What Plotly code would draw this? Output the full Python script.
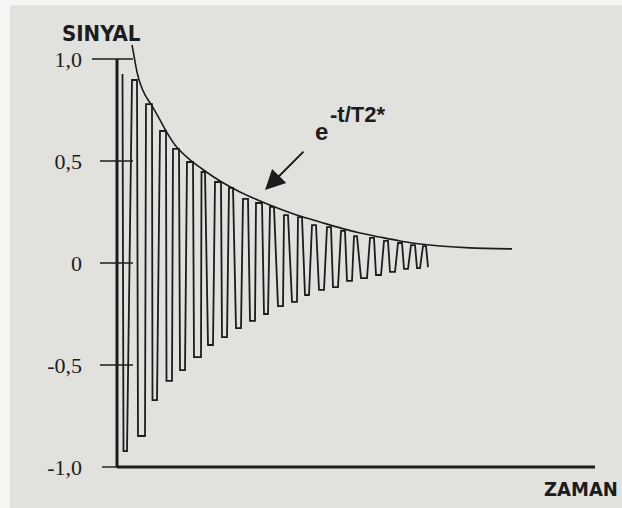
import plotly.graph_objects as go

# ---- data (time in arbitrary units, signal in relative units) ----
start_t, start_v = 1.1, 0.926
end_t, end_v = 62.2, -0.020

trough_t0 = [1.3, 4.2, 7.1, 9.9, 12.6, 15.4, 18.2, 21.0, 23.8, 26.6, 29.4, 32.2, 35.0, 37.6, 40.4, 43.2, 46.0, 48.8, 51.8, 54.6, 57.4, 60.0]
trough_t1 = [2.0, 5.6, 8.0, 11.0, 13.6, 16.8, 19.2, 22.0, 24.8, 27.6, 30.2, 33.2, 36.0, 38.4, 41.4, 44.2, 47.0, 50.0, 52.8, 55.6, 58.2, 60.6]
trough_v = [-0.922, -0.848, -0.672, -0.578, -0.525, -0.461, -0.402, -0.363, -0.319, -0.284, -0.250, -0.211, -0.191, -0.157, -0.132, -0.118, -0.088, -0.074, -0.059, -0.044, -0.029, -0.025]

peak_t0 = [3.0, 5.8, 8.6, 11.2, 14.0, 16.9, 19.6, 22.4, 25.2, 27.8, 30.6, 33.4, 36.2, 39.0, 42.0, 44.8, 47.4, 50.6, 53.4, 56.2, 58.8, 61.2]
peak_t1 = [4.0, 7.0, 9.8, 12.4, 15.2, 17.6, 20.8, 23.2, 26.2, 29.0, 31.4, 34.2, 37.0, 39.8, 42.8, 45.6, 48.0, 51.4, 54.2, 57.0, 59.6, 61.8]
peak_v = [0.897, 0.779, 0.647, 0.559, 0.495, 0.446, 0.397, 0.368, 0.314, 0.294, 0.275, 0.235, 0.225, 0.186, 0.176, 0.157, 0.132, 0.123, 0.108, 0.098, 0.088, 0.083]

env_t = [3.0, 3.4, 4.0, 4.6, 5.6, 7.0, 8.6, 9.8, 11.6, 14.6, 17.6, 20.6, 24.6, 28.6, 32.6, 36.6, 40.6, 44.6, 48.6, 52.6, 56.6, 60.6, 64.6, 70.6, 79.0]
env_v = [1.069, 1.015, 0.936, 0.882, 0.824, 0.770, 0.701, 0.647, 0.578, 0.505, 0.451, 0.402, 0.348, 0.304, 0.265, 0.230, 0.201, 0.172, 0.147, 0.127, 0.108, 0.093, 0.083, 0.074, 0.069]

tick_vals = [1.0, 0.5, 0.0, -0.5, -1.0]
tick_text = ["1,0", "0,5", "0", "-0,5", "-1,0"]
axis_end_t = 95.6

INK = "#1c1c1c"
BG = "#e1e1de"

# build the signal path
sx, sy = [start_t], [start_v]
for i in range(len(peak_v)):
    sx += [trough_t0[i], trough_t1[i]]
    sy += [trough_v[i], trough_v[i]]
    sx += [peak_t0[i], peak_t1[i]]
    sy += [peak_v[i], peak_v[i]]
sx.append(end_t)
sy.append(end_v)

fig = go.Figure()
fig.add_trace(go.Scatter(x=sx, y=sy, mode="lines",
                         line=dict(color=INK, width=1.8), hoverinfo="skip"))
fig.add_trace(go.Scatter(x=env_t, y=env_v, mode="lines",
                         line=dict(color=INK, width=1.6, shape="spline", smoothing=0.8),
                         hoverinfo="skip"))

shapes = []
# axes
shapes.append(dict(type="line", xref="x", yref="y", x0=0, x1=0, y0=-1.0, y1=1.0,
                   line=dict(color=INK, width=3)))
shapes.append(dict(type="line", xref="x", yref="y", x0=0, x1=axis_end_t, y0=-1.0, y1=-1.0,
                   line=dict(color=INK, width=3)))
# tick marks (cross the axis)
for v in tick_vals:
    if v == 1.0:
        x0, x1 = -5.0, 3.2
    elif v == -1.0:
        x0, x1 = -3.0, 0.0
    else:
        x0, x1 = -3.4, 3.2
    shapes.append(dict(type="line", xref="x", yref="y", x0=x0, x1=x1, y0=v, y1=v,
                       line=dict(color=INK, width=1.4)))
# white scan borders
shapes.append(dict(type="rect", xref="paper", yref="paper", x0=-0.2, x1=-0.163, y0=-0.2, y1=1.1,
                   fillcolor="#f5f5f3", line=dict(width=0), layer="below"))
shapes.append(dict(type="rect", xref="paper", yref="paper", x0=-0.2, x1=1.1, y0=1.033, y1=1.1,
                   fillcolor="#f5f5f3", line=dict(width=0), layer="below"))

annotations = [
    dict(text="SINYAL", xref="paper", yref="paper", x=0.018, y=0.971,
         xanchor="center", yanchor="middle", showarrow=False,
         font=dict(family="DejaVu Sans Condensed", size=22, color=INK, weight="bold")),
    dict(text="ZAMAN", xref="paper", yref="paper", x=0.972, y=-0.042,
         xanchor="center", yanchor="middle", showarrow=False,
         font=dict(family="DejaVu Sans Condensed", size=20, color=INK, weight="bold")),
    dict(text="e", xref="paper", yref="paper", x=0.457, y=0.752,
         xanchor="center", yanchor="middle", showarrow=False,
         font=dict(family="Liberation Sans", size=24, color=INK, weight="bold")),
    dict(text="-t/T2*", xref="paper", yref="paper", x=0.470, y=0.789,
         xanchor="left", yanchor="middle", showarrow=False,
         font=dict(family="Liberation Sans", size=22, color=INK, weight="bold")),
    dict(text="", xref="paper", yref="paper", x=0.344, y=0.622,
         ax=40, ay=-40, showarrow=True, arrowhead=2, arrowsize=2.0,
         arrowwidth=2.0, arrowcolor=INK),
]

fig.update_layout(
    width=622, height=508,
    margin=dict(l=92, r=27, t=20, b=38),
    paper_bgcolor=BG, plot_bgcolor=BG,
    showlegend=False,
    shapes=shapes,
    annotations=annotations,
    xaxis=dict(range=[-5, axis_end_t], visible=False, fixedrange=True),
    yaxis=dict(range=[-1.0147, 1.191], tickvals=tick_vals, ticktext=tick_text,
               showgrid=False, zeroline=False, showline=False, ticks="",
               ticklabelstandoff=9,
               tickfont=dict(family="Liberation Serif", size=22, color=INK),
               fixedrange=True),
)

fig.write_html("out.html")
